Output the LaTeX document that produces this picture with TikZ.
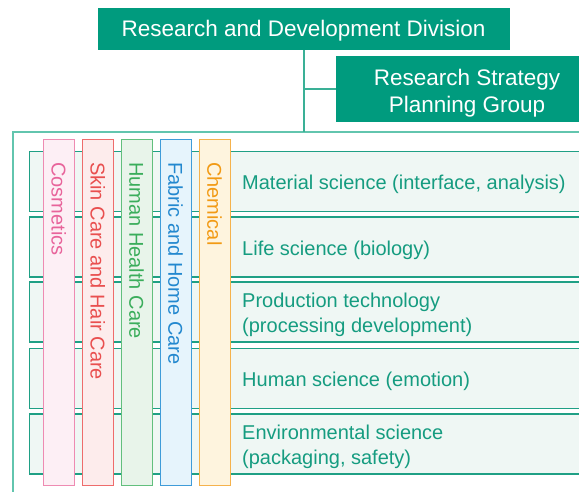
\documentclass[tikz,border=0pt]{standalone}
\usepackage{fontspec}
\setmainfont{Liberation Sans}
\definecolor{boxgreen}{HTML}{009B7E}
\definecolor{connc}{HTML}{3AB096}
\definecolor{framec}{HTML}{62C5AE}
\definecolor{rowline}{HTML}{1FA085}
\definecolor{rowfill}{HTML}{EFF7F4}
\definecolor{rowtextc}{HTML}{159C80}
\definecolor{cosF}{HTML}{FDEFF5}\definecolor{cosD}{HTML}{EE8BB2}\definecolor{cosT}{HTML}{E8649B}
\definecolor{skinF}{HTML}{FDECEC}\definecolor{skinD}{HTML}{EE6C6C}\definecolor{skinT}{HTML}{E94F4F}
\definecolor{hhF}{HTML}{E8F4EA}\definecolor{hhD}{HTML}{62BF7D}\definecolor{hhT}{HTML}{3AAD5B}
\definecolor{fabF}{HTML}{E6F4FC}\definecolor{fabD}{HTML}{3F9CD9}\definecolor{fabT}{HTML}{2388CF}
\definecolor{chemF}{HTML}{FEF4DE}\definecolor{chemD}{HTML}{F5B24C}\definecolor{chemT}{HTML}{F29A14}
\tikzset{
  headbox/.style={fill=boxgreen, inner sep=0pt},
  headtext/.style={text=white, font=\fontsize{22.5}{27}\selectfont, inner sep=0pt, align=center},
  conn/.style={draw=connc, line width=1.8pt},
  outerframe/.style={draw=framec, line width=1.8pt},
  rowbox/.style={draw=rowline, fill=rowfill, line width=1.3pt, anchor=north west, minimum width=570pt, minimum height=60pt, inner sep=0pt},
  rowtext/.style={text=rowtextc, font=\fontsize{20}{25}\selectfont, anchor=west, align=left, inner sep=0pt},
  colbox/.style={line width=1pt, anchor=north west, minimum width=30.7pt, minimum height=346pt, inner sep=0pt},
  coltext/.style={rotate=-90, anchor=west, font=\fontsize{20}{24}\selectfont, inner sep=0pt}
}
\begin{document}
\begin{tikzpicture}[x=1pt,y=-1pt]
\useasboundingbox (0,0) rectangle (579,491);
\clip (0,0) rectangle (579,491);
% top boxes
\node[headbox, minimum width=412pt, minimum height=41.7pt] (rd) at (303.5,28.8) {};
\node[headtext] (rdt) at ([yshift=-2pt]rd.center) {Research and Development Division};
\node[headbox, minimum width=262pt, minimum height=66.3pt] (rs) at (467,89.2) {};
\node[headtext] (rst) at ([yshift=-3.5pt]rs.center) {Research Strategy\\Planning Group};
% outer frame
\coordinate (ft) at (304,131.7);
\coordinate (fl) at (13,131.7);
\coordinate (fbl) at (13,500);
\coordinate (fr) at (600,131.7);
\draw[outerframe] (fbl) -- (fl) -- (fr);
% connectors
\draw[conn] (rd.south -| ft) -- (ft);
\draw[conn] (rs.west -| ft) -- (rs.west);
% rows
\node[rowbox] (r1) at (29,150.7) {};
\node[rowbox] (r2) at (29,216.3) {};
\node[rowbox] (r3) at (29,281.3) {};
\node[rowbox] (r4) at (29,347.7) {};
\node[rowbox] (r5) at (29,413.3) {};
\node[rowtext] (l1) at (242,184.7) {Material science (interface, analysis)};
\node[rowtext] (l2) at (242,250.3) {Life science (biology)};
\node[rowtext] (l3) at (242,315.3) {Production technology\\(processing development)};
\node[rowtext] (l4) at (242,381.7) {Human science (emotion)};
\node[rowtext] (l5) at (242,447.3) {Environmental science\\(packaging, safety)};
% columns
\node[colbox, draw=cosD, fill=cosF] (c1) at (43.3,139) {};
\node[colbox, draw=skinD, fill=skinF] (c2) at (82.3,139) {};
\node[colbox, draw=hhD, fill=hhF] (c3) at (121,139) {};
\node[colbox, draw=fabD, fill=fabF] (c4) at (160,139) {};
\node[colbox, draw=chemD, fill=chemF] (c5) at (199,139) {};
\node[coltext, text=cosT] (t1) at (58.7,162) {Cosmetics};
\node[coltext, text=skinT] (t2) at (97.7,162) {Skin Care and Hair Care};
\node[coltext, text=hhT] (t3) at (136.4,162) {Human Health Care};
\node[coltext, text=fabT] (t4) at (175.4,162) {Fabric and Home Care};
\node[coltext, text=chemT] (t5) at (214.4,162) {Chemical};
\end{tikzpicture}
\end{document}
